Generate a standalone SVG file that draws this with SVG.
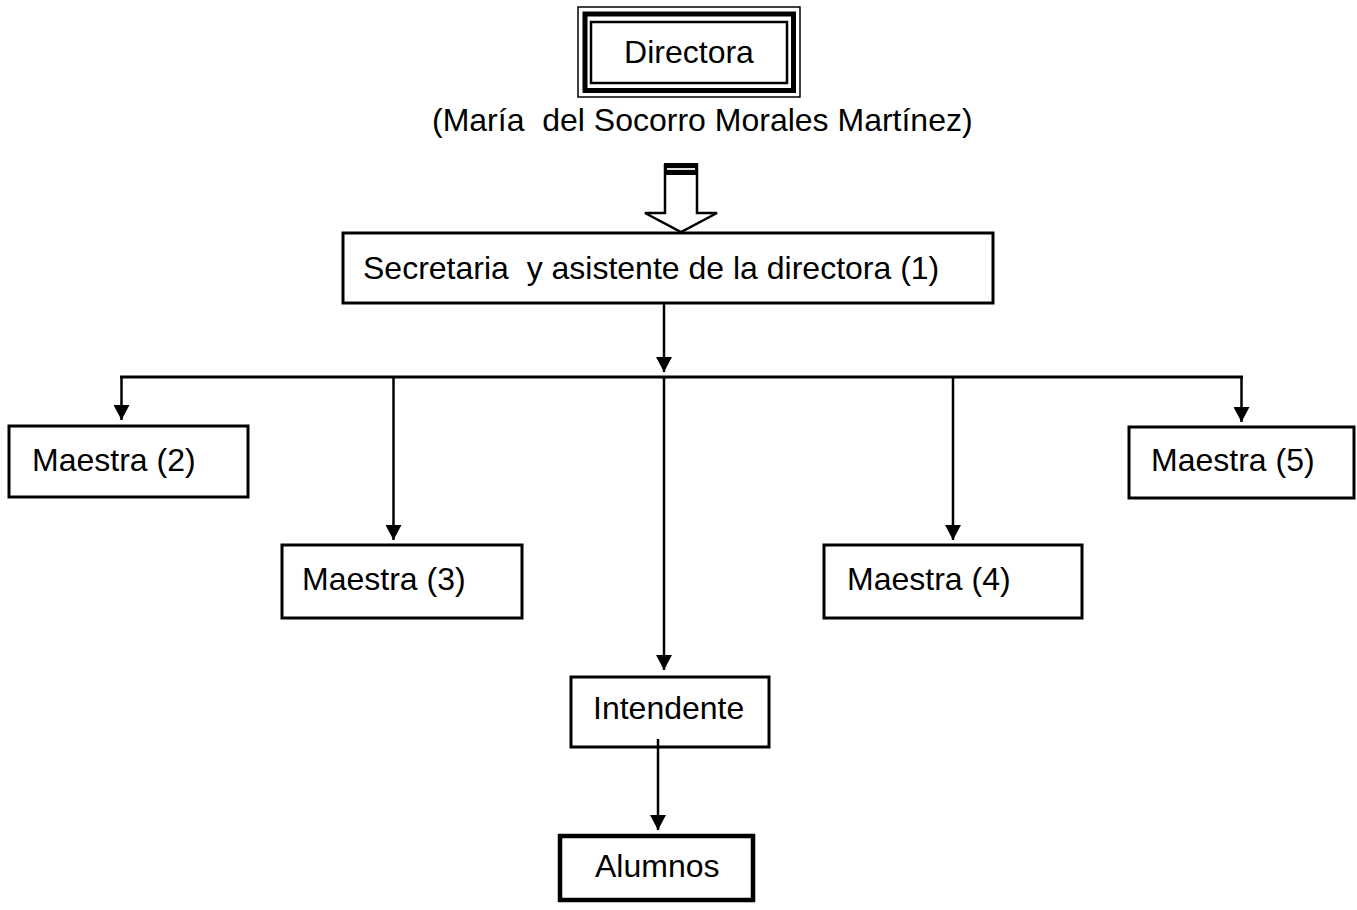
<svg xmlns="http://www.w3.org/2000/svg" width="1357" height="910" viewBox="0 0 1357 910">
<style>
text{font-family:"Liberation Sans",Arial,sans-serif;font-size:32px;fill:#000;white-space:pre}
.box{fill:#fff;stroke:#000;stroke-width:3}
.c{fill:none;stroke:#000;stroke-width:2.5}
</style>
<defs>
<marker id="ah" viewBox="0 0 15 16" refX="15" refY="8" markerWidth="15" markerHeight="16" markerUnits="userSpaceOnUse" orient="auto">
<path d="M0,0 L15,8 L0,16 z" fill="#000"/>
</marker>
</defs>
<rect width="1357" height="910" fill="#fff"/>
<g id="directora">
<rect x="578" y="7" width="222" height="90" fill="#fff" stroke="#000" stroke-width="1.5"/>
<rect x="585" y="14" width="208.5" height="76.5" fill="none" stroke="#000" stroke-width="5"/>
<rect x="591" y="22" width="196" height="61" fill="none" stroke="#000" stroke-width="2.5"/>
<text x="689" y="63" text-anchor="middle">Directora</text>
</g>
<g id="nombre">
<text x="432" y="131" xml:space="preserve">(María  del Socorro Morales Martínez)</text>
</g>
<g id="connectors">
<g id="flecha-hueca">
<polygon points="665,165 697,165 697,213 717,213 681,232 645,213 665,213" fill="#fff" stroke="#000" stroke-width="2.5" stroke-linejoin="miter"/>
<rect x="664" y="163" width="34" height="12" fill="#000"/>
<line x1="667" y1="169" x2="695" y2="169" stroke="#ddd" stroke-width="2"/>
</g>
<line class="c" x1="664" y1="303" x2="664" y2="372" marker-end="url(#ah)"/>
<line x1="120" y1="377" x2="1243" y2="377" stroke="#000" stroke-width="3"/>
<line class="c" x1="121.5" y1="377" x2="121.5" y2="420" marker-end="url(#ah)"/>
<line class="c" x1="393.5" y1="377" x2="393.5" y2="540" marker-end="url(#ah)"/>
<line class="c" x1="664" y1="377" x2="664" y2="670" marker-end="url(#ah)"/>
<line class="c" x1="953" y1="377" x2="953" y2="540" marker-end="url(#ah)"/>
<line class="c" x1="1241.5" y1="377" x2="1241.5" y2="422" marker-end="url(#ah)"/>
<line class="c" x1="658" y1="739" x2="658" y2="830" marker-end="url(#ah)"/>
</g>
<g id="secretaria">
<rect class="box" x="343" y="233" width="650" height="70"/>
<text x="363" y="279" xml:space="preserve">Secretaria  y asistente de la directora (1)</text>
</g>
<g id="maestra2">
<rect class="box" x="9" y="426" width="239" height="71"/>
<text x="32" y="471">Maestra (2)</text>
</g>
<g id="maestra3">
<rect class="box" x="282" y="545" width="240" height="73"/>
<text x="302" y="590">Maestra (3)</text>
</g>
<g id="maestra4">
<rect class="box" x="824" y="545" width="258" height="73"/>
<text x="847" y="590">Maestra (4)</text>
</g>
<g id="maestra5">
<rect class="box" x="1129" y="427" width="225" height="71"/>
<text x="1151" y="471">Maestra (5)</text>
</g>
<g id="intendente">
<rect x="571" y="677" width="198" height="70" fill="none" stroke="#000" stroke-width="3"/>
<text x="593" y="719">Intendente</text>
</g>
<g id="alumnos">
<rect x="560" y="836" width="193" height="64" fill="#fff" stroke="#000" stroke-width="4.5"/>
<text x="595" y="877">Alumnos</text>
</g>
</svg>
